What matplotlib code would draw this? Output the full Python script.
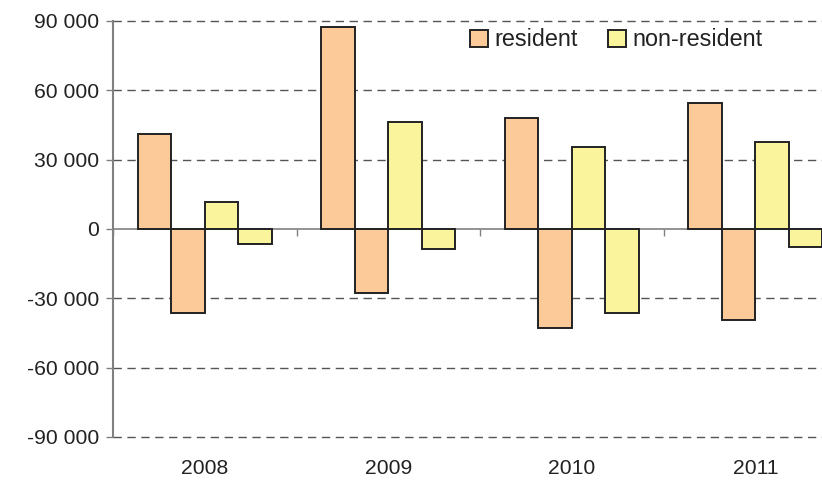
import matplotlib
matplotlib.use("Agg")
import matplotlib.pyplot as plt
from matplotlib.patches import Patch
import matplotlib.transforms as mtransforms
import numpy as np

plt.rcParams['font.family'] = ['Liberation Sans', 'DejaVu Sans']

years = ["2008", "2009", "2010", "2011"]
resident_pos = [41000, 87500, 48000, 54700]
resident_neg = [-36200, -27800, -43000, -39400]
nonres_pos = [11700, 46300, 35500, 37800]
nonres_neg = [-6600, -8500, -36200, -7600]
yticks = [90000, 60000, 30000, 0, -30000, -60000, -90000]

c_res = "#FCCA98"
c_non = "#FAF59C"
edge = "#222222"
axis_gray = "#808080"

W, H = 822, 482
fig = plt.figure(figsize=(W / 100, H / 100), dpi=100)
left, right, top, bottom = 113, 847, 21, 437
ax = fig.add_axes([left / W, 1 - bottom / H, (right - left) / W, (bottom - top) / H])

x = np.arange(len(years))
w = 0.183
series = [(resident_pos, c_res, -1.5), (resident_neg, c_res, -0.5),
          (nonres_pos, c_non, 0.5), (nonres_neg, c_non, 1.5)]
for vals, col, off in series:
    ax.bar(x + off * w, vals, width=w, color=col, edgecolor=edge, linewidth=1.4, zorder=3)

ax.set_xlim(-0.5, 3.5)
ax.set_ylim(-90000, 90000)

ax.set_yticks(yticks)
ax.set_yticklabels([f"{v:,}".replace(",", " ") for v in yticks],
                   fontsize=15.2, color="#222222")
ax.tick_params(axis='y', length=5, width=1, color=axis_gray, pad=5)

for v in yticks:
    if v != 0:
        ax.axhline(v, color="#555555", linewidth=1, linestyle=(0, (6, 4)),
                   zorder=1, clip_on=False)

for s in ['top', 'right']:
    ax.spines[s].set_visible(False)
ax.spines['left'].set_color(axis_gray)
ax.spines['left'].set_linewidth(1.5)
ax.spines['bottom'].set_position(('data', 0))
ax.spines['bottom'].set_color(axis_gray)
ax.spines['bottom'].set_linewidth(1.2)
ax.set_xticks(np.arange(-0.5, 4.0, 1.0))
ax.set_xticklabels([])
ax.tick_params(axis='x', length=5, width=1, color=axis_gray, direction='out')

trans = mtransforms.blended_transform_factory(ax.transData, ax.transAxes)
for i, yr in enumerate(years):
    ax.text(i, -0.076, yr, transform=trans, ha='center', va='center',
            fontsize=15.2, color="#222222")

handles = [Patch(facecolor=c_res, edgecolor=edge, linewidth=1.4, label="resident"),
           Patch(facecolor=c_non, edgecolor=edge, linewidth=1.4, label="non-resident")]
fig.legend(handles=handles, loc='center left', bbox_to_anchor=(470 / W, 1 - 40 / H),
           ncol=2, frameon=False, fontsize=16.8, handlelength=0.75, handleheight=0.78,
           handletextpad=0.3, columnspacing=1.3, borderpad=0, borderaxespad=0,
           labelcolor="#222222")

fig.savefig("out.png", dpi=100)
